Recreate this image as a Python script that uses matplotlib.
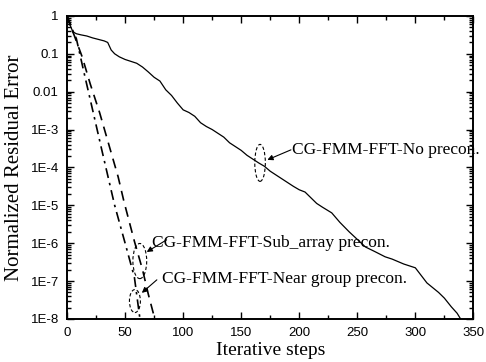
import numpy as np
import matplotlib
matplotlib.use("Agg")
import matplotlib.pyplot as plt
from matplotlib.patches import Ellipse
from matplotlib.ticker import LogLocator, FixedLocator, MultipleLocator, NullFormatter

# ---- data (iteration, log10 of normalized residual) ----
no_iter = [0, 2, 5, 8, 12, 17, 22, 27, 32, 35, 38, 41, 45, 50, 55, 60, 65, 70, 75, 80,
           85, 90, 95, 100, 105, 110, 115, 120, 125, 130, 135, 140, 145, 150, 155, 160,
           165, 170, 175, 180, 185, 190, 195, 200, 205, 210, 215, 220, 228, 235, 243,
           250, 257, 265, 274, 280, 290, 300, 305, 310, 320, 325, 331, 336, 339, 341]
no_log = [0, -0.2, -0.42, -0.47, -0.5, -0.53, -0.58, -0.62, -0.66, -0.7, -0.9, -1.0,
          -1.08, -1.15, -1.2, -1.25, -1.35, -1.48, -1.62, -1.72, -1.95, -2.1, -2.3,
          -2.48, -2.55, -2.65, -2.82, -2.92, -3.0, -3.1, -3.2, -3.35, -3.45, -3.55,
          -3.68, -3.78, -3.88, -3.97, -4.1, -4.2, -4.3, -4.4, -4.5, -4.59, -4.65, -4.8,
          -4.95, -5.05, -5.2, -5.45, -5.7, -5.9, -6.1, -6.22, -6.36, -6.42, -6.55,
          -6.65, -6.85, -7.05, -7.3, -7.45, -7.68, -7.85, -8.0, -8.1]

sub_iter = [0, 2, 4, 6, 9, 13, 20, 28, 36, 44, 49, 58, 65, 70, 76]
sub_log = [0, -0.15, -0.35, -0.5, -0.75, -1.08, -1.8, -2.55, -3.4, -4.25, -4.9,
           -5.95, -6.7, -7.35, -8.05]

near_iter = [0, 3, 8, 15, 22, 30, 41, 50, 58, 63]
near_log = [0, -0.25, -0.6, -1.55, -2.48, -3.55, -5.0, -6.0, -6.9, -8.05]

x_ticks = [0, 50, 100, 150, 200, 250, 300, 350]
y_ticks = [1, 0.1, 0.01, 1e-3, 1e-4, 1e-5, 1e-6, 1e-7, 1e-8]
y_ticklabels = ["1", "0.1", "0.01", "1E-3", "1E-4", "1E-5", "1E-6", "1E-7", "1E-8"]

label_no = "CG-FMM-FFT-No precon."
label_sub = "CG-FMM-FFT-Sub_array precon."
label_near = "CG-FMM-FFT-Near group precon."

serif = ["Liberation Serif", "DejaVu Serif"]
sans = ["Liberation Sans", "DejaVu Sans"]

fig = plt.figure(figsize=(4.86, 3.62), dpi=100)
ax = fig.add_axes([0.138, 0.119, 0.836, 0.837])

ax.plot(no_iter, 10.0 ** np.array(no_log), color="black", lw=0.9, ls="-")
ax.plot(sub_iter, 10.0 ** np.array(sub_log), color="black", lw=1.2, ls=(0, (6, 4)))
ax.plot(near_iter, 10.0 ** np.array(near_log), color="black", lw=1.2, ls=(0, (6, 3, 1.5, 3)))

ax.set_yscale("log")
ax.set_xlim(0, 350)
ax.set_ylim(1e-8, 1)
ax.xaxis.set_major_locator(FixedLocator(x_ticks))
ax.xaxis.set_minor_locator(MultipleLocator(25))
ax.set_xticklabels([str(v) for v in x_ticks], family=sans, fontsize=9.5)
ax.yaxis.set_major_locator(FixedLocator(y_ticks))
ax.set_yticklabels(y_ticklabels, family=sans, fontsize=9.5)
ax.yaxis.set_minor_locator(LogLocator(base=10, subs=np.arange(2, 10), numticks=20))
ax.yaxis.set_minor_formatter(NullFormatter())

ax.tick_params(which="both", direction="in", top=True, right=True, width=1.0)
ax.tick_params(which="major", length=5, pad=6)
ax.tick_params(which="minor", length=3)
for s in ax.spines.values():
    s.set_linewidth(1.4)

ax.set_xlabel("Iterative steps", family=serif, fontsize=14, labelpad=2)
ax.set_ylabel("Normalized Residual Error", family=serif, fontsize=15, labelpad=5)

# ellipses (axes coords)
for (cx, cy, w, h) in [(0.475, 0.515, 0.026, 0.122),
                       (0.179, 0.191, 0.034, 0.116),
                       (0.167, 0.059, 0.027, 0.076)]:
    ax.add_patch(Ellipse((cx, cy), w, h, transform=ax.transAxes, fill=False,
                         ec="black", lw=0.8, ls=(0, (3, 2))))

arrowprops = dict(arrowstyle="-|>", color="black", lw=0.8, mutation_scale=8,
                  shrinkA=0, shrinkB=0)
ax.annotate("", xy=(0.493, 0.525), xytext=(0.551, 0.558), xycoords="axes fraction",
            arrowprops=arrowprops)
ax.annotate("", xy=(0.196, 0.221), xytext=(0.245, 0.261), xycoords="axes fraction",
            arrowprops=arrowprops)
ax.annotate("", xy=(0.184, 0.086), xytext=(0.221, 0.129), xycoords="axes fraction",
            arrowprops=arrowprops)

ax.text(0.554, 0.558, label_no, transform=ax.transAxes, family=serif, fontsize=12.5,
        va="center", ha="left", clip_on=False)
ax.text(0.208, 0.251, label_sub, transform=ax.transAxes, family=serif, fontsize=12.5,
        va="center", ha="left")
ax.text(0.233, 0.132, label_near, transform=ax.transAxes, family=serif, fontsize=12.5,
        va="center", ha="left")

fig.savefig("out.png", dpi=100)
